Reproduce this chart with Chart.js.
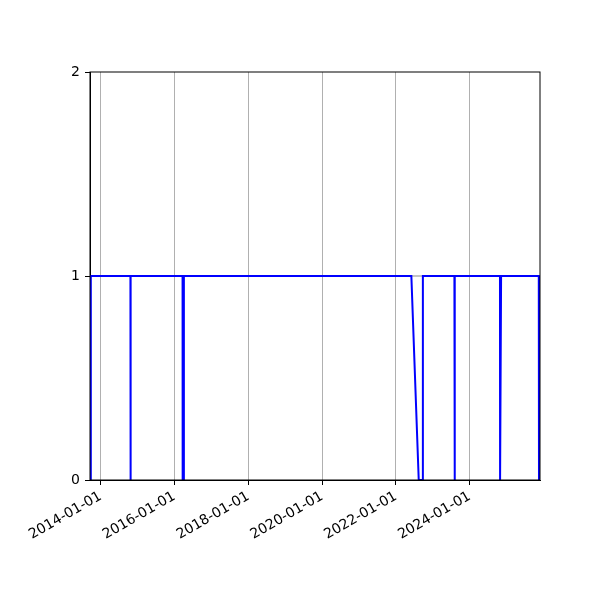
<!DOCTYPE html>
<html>
<head>
<meta charset="utf-8">
<script src="https://cdn.jsdelivr.net/npm/chart.js@4/dist/chart.umd.min.js"></script>
<style>
  html, body { margin: 0; padding: 0; background: #fff; }
  #wrap { width: 600px; height: 600px; }
</style>
</head>
<body>
<div id="wrap"><canvas id="statusChart" width="600" height="600"></canvas></div>
<script>
// status samples (date, value)
const dates = [
    '2013-09-17', '2013-09-25',
    '2014-10-22', '2014-10-23', '2014-10-24', '2014-10-25',
    '2016-03-21', '2016-03-22', '2016-04-02', '2016-04-03',
    '2022-06-02', '2022-08-14', '2022-09-22', '2022-09-24',
    '2023-08-02', '2023-08-03', '2023-08-06', '2023-08-07',
    '2024-10-26', '2024-10-27', '2024-11-05', '2024-11-06',
    '2025-11-14', '2025-11-16', '2025-11-26'
];
const values = [
    0, 1,
    1, 0, 0, 1,
    1, 0, 0, 1,
    1, 0, 0, 1,
    1, 0, 0, 1,
    1, 0, 0, 1,
    1, 0, 0
];
// grey expected level behind the blue line
const refDates = ['2013-09-17', '2025-11-26'];
const refValues = [1, 1];

const xTickLabels = ['2014-01-01', '2016-01-01', '2018-01-01', '2020-01-01', '2022-01-01', '2024-01-01'];
const yTickLabels = [0, 1, 2];

document.addEventListener('DOMContentLoaded', function () {
    const ctx = document.getElementById('statusChart').getContext('2d');
    const font = { family: 'DejaVu Sans', size: 14 };

    const toPoints = (ds, vs) => ds.map((d, i) => ({ x: Date.parse(d), y: vs[i] }));

    // draws the top and right spines
    const frame = {
        id: 'frame',
        afterDraw(chart) {
            const a = chart.chartArea;
            const c = chart.ctx;
            c.save();
            c.strokeStyle = '#000';
            c.lineWidth = 1;
            c.strokeRect(a.left, a.top, a.right - a.left, a.bottom - a.top);
            c.restore();
        }
    };

    new Chart(ctx, {
        type: 'line',
        data: {
            datasets: [{
                label: 'status',
                data: toPoints(dates, values),
                borderColor: '#0000ff',
                borderWidth: 2,
                pointRadius: 0,
                tension: 0,
                fill: false
            }, {
                label: 'expected',
                data: toPoints(refDates, refValues),
                borderColor: '#b0b0b0',
                borderWidth: 1.5,
                pointRadius: 0,
                fill: false
            }]
        },
        options: {
            responsive: false,
            animation: false,
            layout: { padding: { left: 50, top: 72, right: 60, bottom: 0 } },
            plugins: { legend: { display: false }, tooltip: { enabled: false } },
            scales: {
                x: {
                    type: 'linear',
                    min: Date.parse(dates[0]),
                    max: Date.parse(dates[dates.length - 1]),
                    afterBuildTicks: scale => {
                        scale.ticks = xTickLabels.map(t => ({ value: Date.parse(t) }));
                    },
                    afterFit: scale => { scale.height = 120; },
                    ticks: {
                        autoSkip: false,
                        minRotation: 30,
                        maxRotation: 30,
                        color: '#000',
                        font: font,
                        padding: 3,
                        callback: (value) => {
                            const i = xTickLabels.findIndex(t => Date.parse(t) === value);
                            return i >= 0 ? xTickLabels[i] : '';
                        }
                    },
                    grid: { color: '#b0b0b0', lineWidth: 1, tickColor: '#000', tickLength: 5 },
                    border: { color: '#000', width: 1 }
                },
                y: {
                    min: 0,
                    max: 2,
                    afterBuildTicks: scale => {
                        scale.ticks = yTickLabels.map(v => ({ value: v }));
                    },
                    afterFit: scale => { scale.width = 40; },
                    ticks: { color: '#000', font: font, padding: 5 },
                    grid: { drawOnChartArea: false, tickColor: '#000', tickLength: 5 },
                    border: { color: '#000', width: 1 }
                }
            }
        },
        plugins: [frame]
    });
});
</script>
</body>
</html>
